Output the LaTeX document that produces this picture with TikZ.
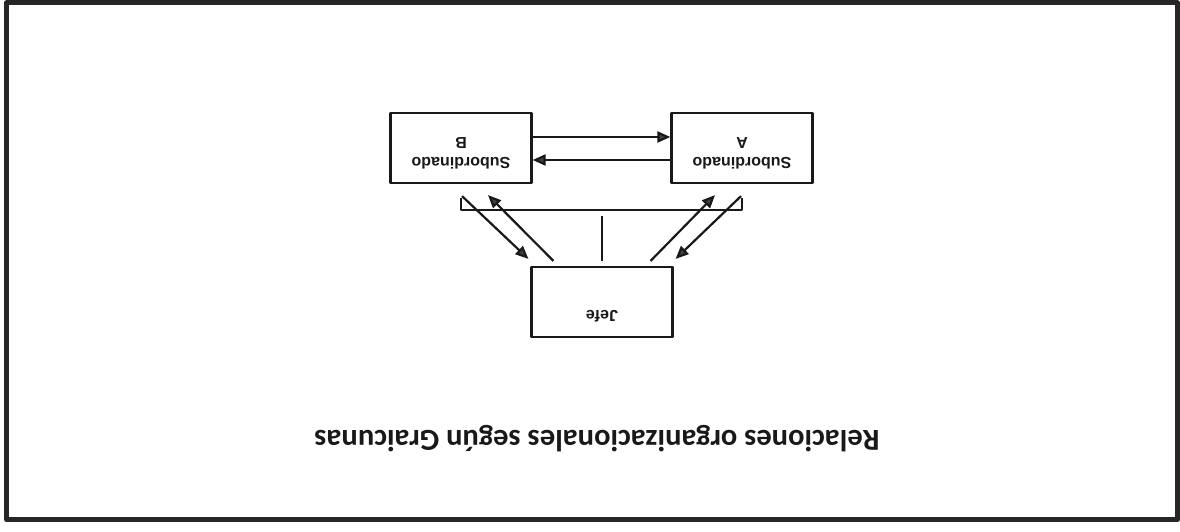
\documentclass[tikz,border=0pt]{standalone}
\usepackage{fontspec}
\setmainfont{Liberation Sans}
\newfontfamily\fuentetitulo{Carlito}
\usetikzlibrary{arrows.meta,calc}
\tikzset{
	caja/.style={draw, line width=2.2pt, minimum width=141pt, minimum height=70pt, inner sep=0pt},
	rotulo/.style={rotate=180, align=center, inner sep=0pt, font=\bfseries\fontsize{16}{20}\selectfont},
}
\begin{document}
\begin{tikzpicture}[x=1pt, y=-1pt, >={Triangle[length=13pt,width=11pt,fill=black!75]}, line width=2.2pt, line join=round, color=black!90]
	%marco
	\useasboundingbox (0,0) rectangle (1180,532);
	\draw[line width=5pt, black!85] (6.5,3) rectangle (1177.5,519.5);
	%cajas
	\node[caja] (B) at (461,148) {};
	\node[caja] (A) at (742,148) {};
	\node[caja] (jefe) at (602,302) {};
	\node[rotulo] (tB) at ($(B.center)+(0,5)$) {Subordinado\\B};
	\node[rotulo] (tA) at ($(A.center)+(0,5)$) {Subordinado\\A};
	\node[rotulo] (tjefe) at ($(jefe.center)+(0,14)$) {Jefe};
	%entre subordinados
	\draw[->] ($(B.east)+(0,-11)$) -- ($(A.west)+(0,-11)$);
	\draw[->] ($(A.west)+(0,12)$) -- ($(B.east)+(0,12)$);
	%grupo
	\draw ($(B.south)+(0,14)$) -- ($(B.south)+(0,26)$) -- ($(A.south)+(0,26)$) -- ($(A.south)+(0,14)$);
	\draw ($(jefe.north)+(0,-5)$) -- ($(jefe.north)+(0,-50)$);
	%con el jefe
	\draw[->] ($(B.south)+(1,12)$) -- ($(jefe.north west)+(-2,-7)$);
	\draw[->] ($(jefe.north west)+(23,-5)$) -- ($(B.south)+(27,11)$);
	\draw[->] ($(jefe.north east)+(-23,-5)$) -- ($(A.south)+(-27,11)$);
	\draw[->] ($(A.south)+(-1,12)$) -- ($(jefe.north east)+(2,-7)$);
	%titulo
	\node[rotate=180, anchor=base, font=\fuentetitulo\bfseries\fontsize{30.5}{36}\selectfont] (titulo) at (597,430) {Relaciones organizacionales según Graicunas};
\end{tikzpicture}
\end{document}
